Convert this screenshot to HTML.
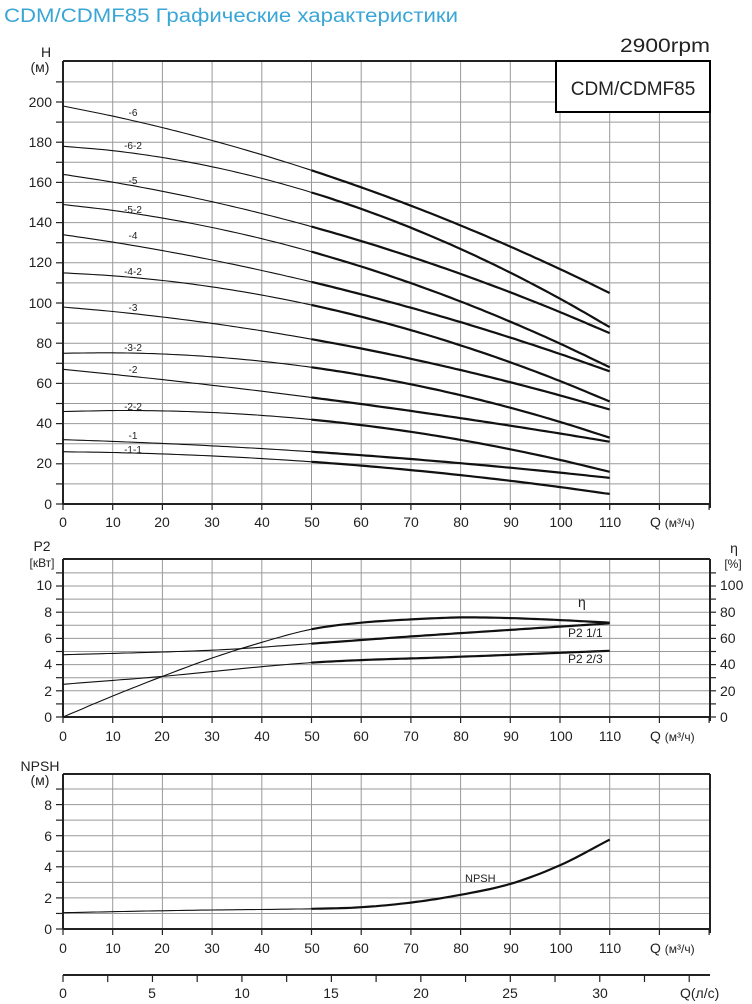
<!DOCTYPE html>
<html><head><meta charset="utf-8"><style>
body{margin:0;background:#fff}
svg{display:block}
text{font-family:"Liberation Sans","DejaVu Sans",sans-serif;fill:#222}
</style></head><body>
<svg id="s" width="752" height="1004" viewBox="0 0 752 1004" xmlns="http://www.w3.org/2000/svg">
<text x="4" y="22" font-size="19" textLength="454" lengthAdjust="spacingAndGlyphs" style="fill:#3aa6d6">CDM/CDMF85 Графические характеристики</text>
<text x="620" y="52" font-size="19" textLength="90" lengthAdjust="spacingAndGlyphs">2900rpm</text>
<g id="g"></g>
<rect x="556" y="61" width="154" height="51" fill="#fff" stroke="#000" stroke-width="2"/>
<text x="633" y="95" font-size="19" text-anchor="middle">CDM/CDMF85</text>
<g font-size="14" text-anchor="end">
<text x="46" y="57" text-anchor="middle">H</text><text x="40" y="72" text-anchor="middle">(м)</text>
<text x="52" y="107">200</text><text x="52" y="147">180</text><text x="52" y="187">160</text><text x="52" y="227">140</text><text x="52" y="267">120</text><text x="52" y="308">100</text><text x="52" y="348">80</text><text x="52" y="388">60</text><text x="52" y="428">40</text><text x="52" y="468">20</text><text x="52" y="509">0</text>
</g>
<g font-size="14" text-anchor="middle">
<text x="63" y="527">0</text><text x="113" y="527">10</text><text x="162" y="527">20</text><text x="212" y="527">30</text><text x="262" y="527">40</text><text x="312" y="527">50</text><text x="361" y="527">60</text><text x="411" y="527">70</text><text x="461" y="527">80</text><text x="511" y="527">90</text><text x="561" y="527">100</text><text x="610" y="527">110</text>
</g>
<text x="650" y="527" font-size="14">Q <tspan font-size="12">(м³/ч)</tspan></text>
<g font-size="10" text-anchor="middle">
<text x="133" y="116">-6</text><text x="133" y="149">-6-2</text><text x="133" y="184">-5</text><text x="133" y="213">-5-2</text><text x="133" y="239">-4</text><text x="133" y="275">-4-2</text><text x="133" y="311">-3</text><text x="133" y="351">-3-2</text><text x="133" y="373">-2</text><text x="133" y="410">-2-2</text><text x="133" y="439">-1</text><text x="133" y="453">-1-1</text>
</g>
<g font-size="14" text-anchor="end">
<text x="42" y="551" text-anchor="middle">P2</text><text x="42" y="567" text-anchor="middle" font-size="12">[кВт]</text>
<text x="52" y="590">10</text><text x="52" y="617">8</text><text x="52" y="643">6</text><text x="52" y="669">4</text><text x="52" y="696">2</text><text x="52" y="722">0</text>
</g>
<g font-size="14">
<text x="734" y="553" text-anchor="middle">η</text><text x="733" y="568" text-anchor="middle" font-size="12">[%]</text>
<text x="720" y="590">100</text><text x="720" y="617">80</text><text x="720" y="643">60</text><text x="720" y="669">40</text><text x="720" y="696">20</text><text x="720" y="722">0</text>
<text x="578" y="607">η</text>
<text x="568" y="637" font-size="12">P2 1/1</text><text x="568" y="663" font-size="12">P2 2/3</text>
</g>
<g font-size="14" text-anchor="middle">
<text x="63" y="741">0</text><text x="113" y="741">10</text><text x="162" y="741">20</text><text x="212" y="741">30</text><text x="262" y="741">40</text><text x="312" y="741">50</text><text x="361" y="741">60</text><text x="411" y="741">70</text><text x="461" y="741">80</text><text x="511" y="741">90</text><text x="561" y="741">100</text><text x="610" y="741">110</text>
</g>
<text x="650" y="741" font-size="14">Q <tspan font-size="12">(м³/ч)</tspan></text>
<g font-size="14" text-anchor="end">
<text x="40" y="771" text-anchor="middle">NPSH</text><text x="40" y="785" text-anchor="middle">(м)</text>
<text x="52" y="810">8</text><text x="52" y="841">6</text><text x="52" y="872">4</text><text x="52" y="903">2</text><text x="52" y="934">0</text>
</g>
<text x="465" y="882" font-size="11">NPSH</text>
<g font-size="14" text-anchor="middle">
<text x="63" y="953">0</text><text x="113" y="953">10</text><text x="162" y="953">20</text><text x="212" y="953">30</text><text x="262" y="953">40</text><text x="312" y="953">50</text><text x="361" y="953">60</text><text x="411" y="953">70</text><text x="461" y="953">80</text><text x="511" y="953">90</text><text x="561" y="953">100</text><text x="610" y="953">110</text>
</g>
<text x="650" y="953" font-size="14">Q <tspan font-size="12">(м³/ч)</tspan></text>
<g font-size="14" text-anchor="middle">
<text x="63" y="998">0</text><text x="152" y="998">5</text><text x="242" y="998">10</text><text x="331" y="998">15</text><text x="421" y="998">20</text><text x="510" y="998">25</text><text x="600" y="998">30</text>
</g>
<text x="680" y="998" font-size="14">Q(л/с)</text>
</svg>
<script>
var g=document.getElementById('g'),NS='http://www.w3.org/2000/svg';
function L(x1,y1,x2,y2,c,w){var e=document.createElementNS(NS,'line');e.setAttribute('x1',x1);e.setAttribute('y1',y1);e.setAttribute('x2',x2);e.setAttribute('y2',y2);e.setAttribute('stroke',c);e.setAttribute('stroke-width',w);g.appendChild(e);}
function P(d,w){var e=document.createElementNS(NS,'path');e.setAttribute('d',d);e.setAttribute('fill','none');e.setAttribute('stroke','#111');e.setAttribute('stroke-width',w);g.appendChild(e);}
var X0=63,XS=4.97;function X(q){return X0+q*XS;}
function chart(top,bot,nv,unitPx,tickExtraRight){
  for(var q=10;q<130;q+=10)L(X(q),top,X(q),bot,'#999',1);
  for(var y=bot-unitPx;y>top+1;y-=unitPx){L(X0,y,710,y,'#999',1);L(56,y,X0,y,'#222',1.2);if(tickExtraRight)L(710,y,716,y,'#222',1.2);}
  L(56,bot,X0,bot,'#222',1.2);if(tickExtraRight)L(710,bot,716,bot,'#222',1.2);
  for(var q=0;q<=130;q+=10)L(X(q),bot,X(q),bot+6,'#222',1.2);
  L(X0,top,710,top,'#222',2);L(X0,bot,710,bot,'#222',2);L(X0,top,X0,bot,'#222',2);L(710,top,710,bot+4,'#222',2);
}
chart(61,504,0,20.1,false);
chart(559,717,0,13.1,true);
chart(774,929,0,15.55,false);
L(X0,975,710,975,'#222',2);
for(var s=0;s<=36;s+=2.5){var x=X(s*3.6);if(x<=711)L(x,975,x,982,'#222',1.2);}
function curve(pts,fy){var d='',d2='';
  function val(q){for(var i=0;i<pts.length-1;i++){if(q<=pts[i+1][0]){var a=pts[i],b=pts[i+1];
   var t=(q-a[0])/(b[0]-a[0]);var p0=pts[Math.max(i-1,0)],p3=pts[Math.min(i+2,pts.length-1)];
   var m1=(b[1]-p0[1])/(b[0]-p0[0])*(b[0]-a[0]),m2=(p3[1]-a[1])/(p3[0]-a[0])*(b[0]-a[0]);
   var t2=t*t,t3=t2*t;return (2*t3-3*t2+1)*a[1]+(t3-2*t2+t)*m1+(-2*t3+3*t2)*b[1]+(t3-t2)*m2;}}return pts[pts.length-1][1];}
  for(var q=0;q<=50;q+=1)d+=(q?'L':'M')+X(q).toFixed(1)+' '+fy(val(q)).toFixed(1);
  for(var q=50;q<=110;q+=1)d2+=(q>50?'L':'M')+X(q).toFixed(1)+' '+fy(val(q)).toFixed(1);
  P(d,1.1);P(d2,2.2);}
function H(v){return 504-v*2.01;}
var heads=[[198,166,105],[178,155,88],[164,138,85],[149,125.5,68],[134,110.5,66],[115,99,51],[98,82,47],[75,68,33],[67,53,31],[46,42,16],[32,26,13],[26,21,5]];
heads.forEach(function(h){
  var a=((h[2]-h[0])/110-(h[1]-h[0])/50)/60, b=(h[1]-h[0])/50-a*50;
  var pts=[];for(var q=0;q<=110;q+=10)pts.push([q,h[0]+b*q+a*q*q]);curve(pts,H);});
function M(v){return 717-v*13.1;}
curve([[0,0],[10,1.6],[20,3.1],[30,4.5],[40,5.7],[50,6.7],[60,7.2],[70,7.45],[80,7.6],[90,7.55],[100,7.4],[110,7.2]],M);
curve([[0,4.75],[30,5.1],[50,5.6],[70,6.15],[90,6.65],[110,7.15]],M);
curve([[0,2.5],[20,3.1],[50,4.15],[80,4.6],[110,5.05]],M);
function N(v){return 929-v*15.55;}
curve([[0,1.05],[25,1.2],[50,1.3],[60,1.4],[70,1.7],[80,2.2],[90,2.9],[100,4.1],[110,5.75]],N);
</script>
</body></html>
